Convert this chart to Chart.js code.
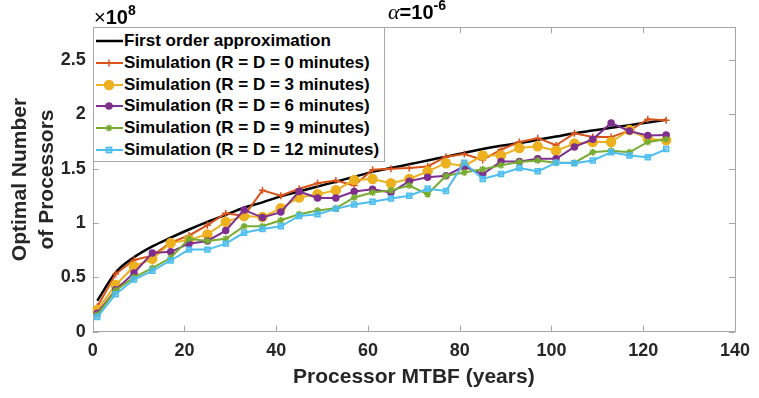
<!DOCTYPE html>
<html><head><meta charset="utf-8">
<script src="https://cdn.jsdelivr.net/npm/chart.js@4.4.0/dist/chart.umd.min.js"></script>
<style>
html,body{margin:0;padding:0;background:#fff;}
#wrap{position:relative;width:759px;height:398px;font-family:"Liberation Sans",Arial,Helvetica,sans-serif;overflow:hidden;}
#c{position:absolute;left:0;top:0;}
.ov{position:absolute;white-space:nowrap;color:#000;line-height:20px;}
.sup{position:relative;top:-9px;font-size:14px;font-weight:bold;}
#legend{position:absolute;left:93px;top:27px;width:292px;height:135px;box-sizing:border-box;border:1px solid #a8a8a8;background:#fff;}
.row{position:absolute;left:0;height:22px;width:290px;}
.row svg{position:absolute;left:1px;top:0;}
.row span{position:absolute;left:30px;top:0;font-size:17px;font-weight:bold;line-height:22px;color:#000;}
</style>
</head><body>
<div id="wrap">
<canvas id="c" width="759" height="398"></canvas>
<div class="ov" id="title" style="left:317px;top:2px;width:200px;text-align:center;font-size:20px;"><span style="font-family:'Liberation Serif','DejaVu Serif',serif;font-style:italic;font-size:22px;">α</span><b>=10</b><span class="sup">-6</span></div>
<div class="ov" id="expo" style="left:94px;top:7px;font-size:20px;"><span style="font-weight:normal;">×</span><b>10</b><span class="sup">8</span></div>
<div id="legend"></div>
</div>
<script>
// ---- data (values in units of 10^8 processors) ----
const mtbfYears = [1,5,9,13,17,21,25,29,33,37,41,45,49,53,57,61,65,69,73,77,81,85,89,93,97,101,105,109,113,117,121,125];
const firstOrder = [0.285,0.545,0.685,0.785,0.865,0.94,1.01,1.075,1.14,1.19,1.245,1.29,1.335,1.38,1.425,1.47,1.505,1.54,1.575,1.61,1.645,1.68,1.71,1.735,1.765,1.795,1.825,1.85,1.875,1.90,1.925,1.95];
const sim0  = [0.23,0.53,0.66,0.70,0.82,0.885,0.98,1.09,1.065,1.30,1.25,1.315,1.365,1.39,1.345,1.49,1.50,1.505,1.52,1.61,1.635,1.58,1.675,1.745,1.78,1.715,1.825,1.79,1.79,1.85,1.955,1.945];
const sim3  = [0.20,0.43,0.60,0.67,0.815,0.845,0.895,1.01,1.065,1.055,1.135,1.235,1.265,1.30,1.395,1.405,1.365,1.405,1.475,1.55,1.525,1.62,1.62,1.69,1.705,1.665,1.73,1.745,1.745,1.855,1.775,1.76];
const sim6  = [0.17,0.385,0.54,0.725,0.735,0.81,0.835,0.93,1.12,1.05,1.10,1.29,1.23,1.23,1.29,1.31,1.28,1.385,1.42,1.435,1.52,1.45,1.565,1.565,1.59,1.59,1.70,1.77,1.92,1.845,1.805,1.81];
const sim9  = [0.155,0.38,0.50,0.585,0.68,0.855,0.835,0.855,0.97,0.97,1.025,1.08,1.115,1.135,1.235,1.28,1.30,1.345,1.265,1.435,1.465,1.495,1.53,1.56,1.575,1.555,1.555,1.65,1.665,1.65,1.745,1.77];
const sim12 = [0.135,0.345,0.48,0.56,0.655,0.755,0.755,0.81,0.91,0.945,0.97,1.065,1.08,1.13,1.17,1.195,1.225,1.25,1.315,1.295,1.555,1.405,1.45,1.505,1.475,1.555,1.55,1.575,1.65,1.62,1.605,1.68];
const seriesLabels = ['First order approximation','Simulation (R = D = 0 minutes)','Simulation (R = D = 3 minutes)','Simulation (R = D = 6 minutes)','Simulation (R = D = 9 minutes)','Simulation (R = D = 12 minutes)'];
const xTickValues = [0,20,40,60,80,100,120,140];
const yTickValues = [0,0.5,1,1.5,2,2.5];

// ---- styles ----
const styles = [
  {color:'#000000', width:2.5, point:false, radius:0, fill:'#000000'},
  {color:'#D95319', width:2, point:'cross', radius:3.5, fill:'#D95319'},
  {color:'#EDB120', width:2, point:'circle', radius:4.5, fill:'#EDB120'},
  {color:'#7E2F8E', width:2, point:'circle', radius:3, fill:'#7E2F8E'},
  {color:'#77AC30', width:2, point:'star', radius:3.5, fill:'#77AC30'},
  {color:'#4DBEEE', width:2, point:'rect', radius:3.5, fill:'rgba(77,190,238,0.55)'}
];
const allSeries = [firstOrder, sim0, sim3, sim6, sim9, sim12];
const FONT = '"Liberation Sans", Arial, Helvetica, sans-serif';
const AXIS_GRAY = '#a6a6a6';
const TEXT = '#262626';

const datasets = allSeries.map((vals, i) => {
  const s = styles[i];
  return {
    label: seriesLabels[i],
    data: mtbfYears.map((x, k) => ({x: x, y: vals[k]})),
    borderColor: s.color,
    backgroundColor: s.fill,
    borderWidth: s.width,
    pointStyle: s.point,
    pointRadius: s.radius,
    pointBorderWidth: 1.5,
    pointBorderColor: s.color,
    pointBackgroundColor: s.fill,
    cubicInterpolationMode: i === 0 ? 'monotone' : 'default',
    tension: 0,
    order: 6 - i
  };
});

const boxPlugin = {
  id: 'boxTicks',
  beforeDatasetsDraw(chart) {
    const {ctx, chartArea: a, scales: {x, y}} = chart;
    ctx.save();
    ctx.strokeStyle = AXIS_GRAY;
    ctx.lineWidth = 1;
    ctx.strokeRect(Math.round(a.left) + 0.5, Math.round(a.top) + 0.5, Math.round(a.right - a.left), Math.round(a.bottom - a.top));
    const L = 6;
    ctx.beginPath();
    xTickValues.forEach(v => {
      const px = Math.round(x.getPixelForValue(v)) + 0.5;
      ctx.moveTo(px, a.bottom); ctx.lineTo(px, a.bottom - L);
      ctx.moveTo(px, a.top); ctx.lineTo(px, a.top + L);
    });
    yTickValues.forEach(v => {
      const py = Math.round(y.getPixelForValue(v)) + 0.5;
      ctx.moveTo(a.left, py); ctx.lineTo(a.left + L, py);
      ctx.moveTo(a.right, py); ctx.lineTo(a.right - L, py);
    });
    ctx.stroke();
    ctx.restore();
  }
};

new Chart(document.getElementById('c'), {
  type: 'line',
  data: {datasets},
  plugins: [boxPlugin],
  options: {
    responsive: false,
    animation: false,
    devicePixelRatio: 1,
    layout: {padding: {top: 27.3, right: 17.3, bottom: 0, left: 0}},
    plugins: {legend: {display: false}, tooltip: {enabled: false}, title: {display: false}},
    scales: {
      x: {
        type: 'linear', min: 0, max: 140,
        afterBuildTicks: s => { s.ticks = xTickValues.map(v => ({value: v})); },
        afterFit: s => { s.height = 66.3; },
        grid: {display: false, drawTicks: false},
        border: {display: false},
        ticks: {padding: 9, color: TEXT, font: {family: FONT, size: 18, weight: 'bold'}, maxRotation: 0, callback: v => String(v)},
        title: {display: true, text: 'Processor MTBF (years)', color: TEXT, font: {family: FONT, size: 21, weight: 'bold', lineHeight: 1.3}, padding: {top: 0, bottom: 7}}
      },
      y: {
        type: 'linear', min: 0, max: 2.8,
        afterBuildTicks: s => { s.ticks = yTickValues.map(v => ({value: v})); },
        afterFit: s => { s.width = 92.7; },
        grid: {display: false, drawTicks: false},
        border: {display: false},
        ticks: {padding: 7, color: TEXT, font: {family: FONT, size: 18, weight: 'bold'}, callback: v => String(v)},
        title: {display: true, text: ['Optimal Number', 'of Processors'], color: TEXT, font: {family: FONT, size: 21, weight: 'bold', lineHeight: 1.27}, padding: {top: 7, bottom: 0}}
      }
    }
  }
});

// ---- legend (HTML, built from the series styles) ----
function markerSvg(s) {
  const cx = 14, cy = 11, r = s.radius;
  let m = '';
  if (s.point === 'circle') m = `<circle cx="${cx}" cy="${cy}" r="${r}" fill="${s.fill}" stroke="${s.color}" stroke-width="1.5"/>`;
  else if (s.point === 'rect') m = `<rect x="${cx - r * 0.75}" y="${cy - r * 0.75}" width="${r * 1.5}" height="${r * 1.5}" fill="${s.fill}" stroke="${s.color}" stroke-width="1.5"/>`;
  else if (s.point === 'cross') m = `<path d="M${cx - r} ${cy}H${cx + r}M${cx} ${cy - r}V${cy + r}" stroke="${s.color}" stroke-width="1.5"/>`;
  else if (s.point === 'star') m = `<path d="M${cx - r} ${cy}H${cx + r}M${cx} ${cy - r}V${cy + r}M${cx - r * 0.7} ${cy - r * 0.7}L${cx + r * 0.7} ${cy + r * 0.7}M${cx - r * 0.7} ${cy + r * 0.7}L${cx + r * 0.7} ${cy - r * 0.7}" stroke="${s.color}" stroke-width="1.5"/>`;
  return `<svg width="28" height="22"><line x1="1" y1="11" x2="28" y2="11" stroke="${s.color}" stroke-width="${s.width}"/>${m}</svg>`;
}
const leg = document.getElementById('legend');
seriesLabels.forEach((lab, i) => {
  const row = document.createElement('div');
  row.className = 'row';
  row.style.top = (2.4 + 21.66 * i) + 'px';
  row.innerHTML = markerSvg(styles[i]) + '<span></span>';
  row.querySelector('span').textContent = lab;
  leg.appendChild(row);
});
</script>
</body></html>
